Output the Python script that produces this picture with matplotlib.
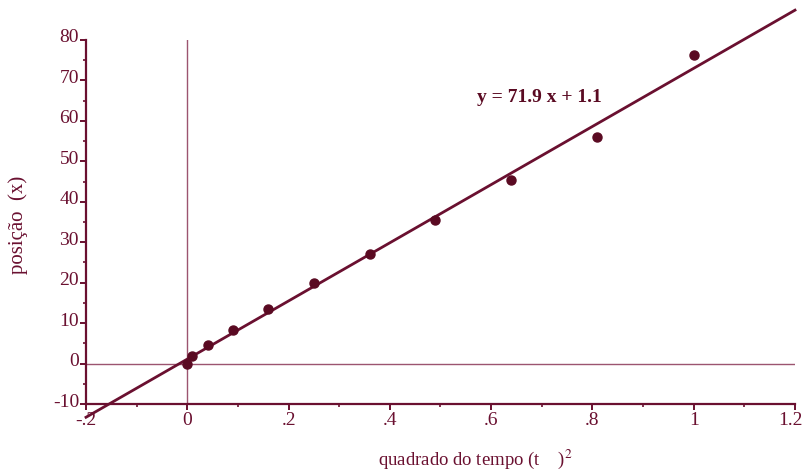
import matplotlib
matplotlib.use("Agg")
import matplotlib.pyplot as plt
import matplotlib.transforms as mtransforms
import numpy as np

# dados: quadrado do tempo (t^2) e posição (x)
t2 = [0.0, 0.01, 0.04, 0.09, 0.16, 0.25, 0.36, 0.49, 0.64, 0.81, 1.0]
pos = [0.0, 1.8, 4.7, 8.2, 13.6, 20.0, 27.2, 35.5, 45.4, 55.9, 76.2]
slope, intercept = 71.9, 1.1

xticks = [-0.2, 0, 0.2, 0.4, 0.6, 0.8, 1.0, 1.2]
xticklabels = ["-.2", "0", ".2", ".4", ".6", ".8", "1", "1.2"]
yticks = [-10, 0, 10, 20, 30, 40, 50, 60, 70, 80]

MAROON = "#6a1030"
DOT = "#5a0a22"
THIN = "#9c5470"

plt.rcParams["font.family"] = ["Liberation Serif", "DejaVu Serif"]
plt.rcParams["mathtext.fontset"] = "stix"

fig = plt.figure(figsize=(8.04, 4.73), dpi=100)
ax = fig.add_axes([86 / 804, 69 / 473, 709 / 804, 364 / 473])
ax.set_xlim(-0.2, 1.2)
ax.set_ylim(-10, 80)

for s in ("top", "right"):
    ax.spines[s].set_visible(False)
for s in ("left", "bottom"):
    ax.spines[s].set_color(MAROON)
    ax.spines[s].set_linewidth(1.6)

ax.set_xticks(xticks, xticklabels)
ax.set_xticks(np.arange(-0.2, 1.21, 0.1), minor=True)
ax.set_yticks(yticks, [str(v) for v in yticks])
ax.set_yticks(np.arange(-10, 80.1, 5), minor=True)
ax.tick_params(which="major", direction="out", length=4, width=1.4,
               color=MAROON, labelcolor=MAROON, labelsize=14)
ax.tick_params(which="minor", direction="out", length=2.2, width=1.2, color=MAROON)
ax.tick_params(axis="x", pad=2)
ax.tick_params(axis="y", pad=1)

# rótulos do eixo y um pouco acima da marca
up = mtransforms.ScaledTranslation(0, 4 / 100, fig.dpi_scale_trans)
for lab in ax.get_yticklabels():
    lab.set_transform(lab.get_transform() + up)
left = mtransforms.ScaledTranslation(-5 / 100, 0, fig.dpi_scale_trans)
xl = ax.get_xticklabels()
xl[-1].set_transform(xl[-1].get_transform() + left)

# linhas de referência
ax.axvline(0, color=THIN, lw=1.0, zorder=1)
ax.axhline(0, color=THIN, lw=1.0, zorder=1)

# reta ajustada
xf = np.array([-0.2, 1.2])
ax.plot(xf, slope * xf + intercept, color=MAROON, lw=2.0, clip_on=False, zorder=2)

# pontos
ax.plot(t2, pos, "o", color=DOT, ms=6.5, zorder=3, clip_on=False)

ax.text(0.573, 65.8, "y = 71.9 x + 1.1", fontsize=14, fontweight="bold",
        color=DOT, ha="left", va="center")

fig.text(18 / 804, 1 - 225 / 473, "posição  (x)", rotation=90, fontsize=15,
         color=MAROON, ha="center", va="center")
fig.text(475 / 804, 1 - 459 / 473, "quadrado do tempo (t    )$^{2}$", fontsize=13.5,
         color=MAROON, ha="center", va="center")

fig.savefig("out.png", dpi=100)
